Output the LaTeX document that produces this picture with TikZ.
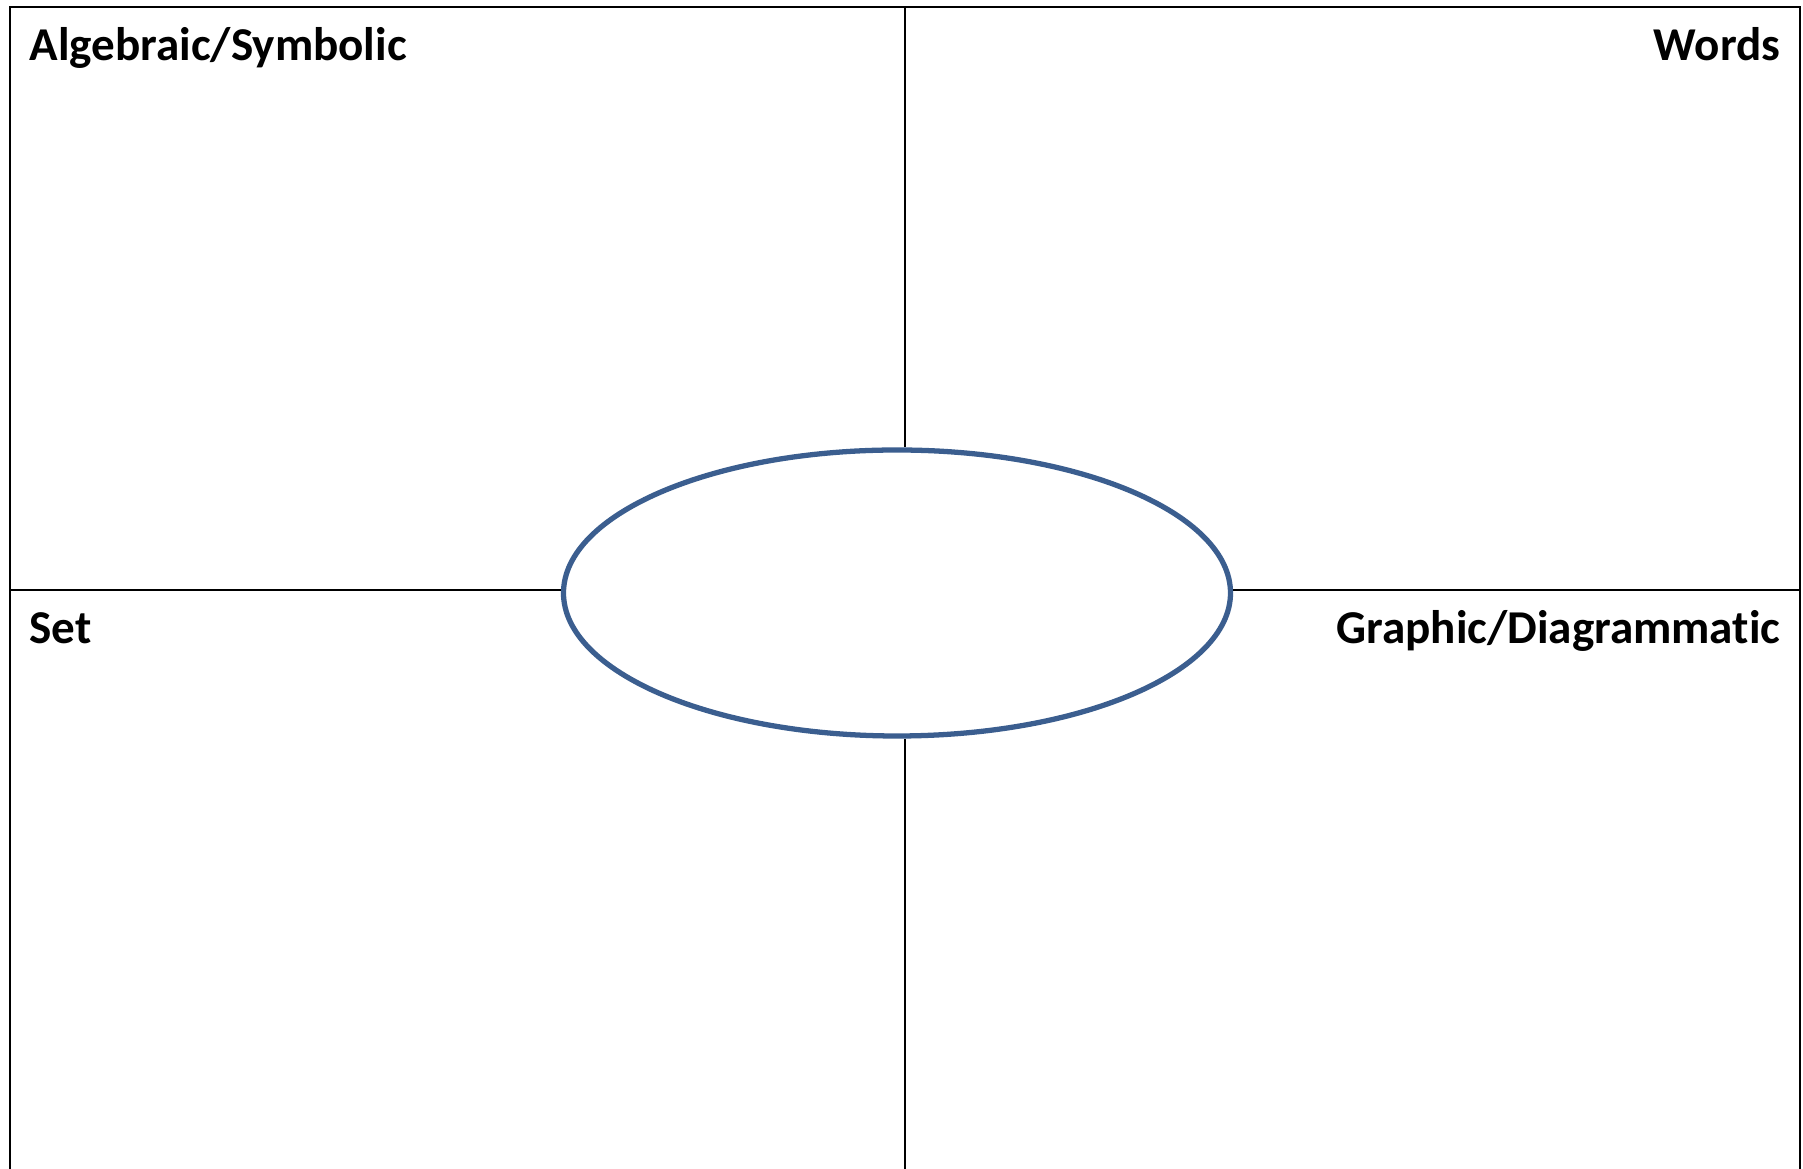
\documentclass[tikz,border=0pt]{standalone}
\usepackage{fontspec}
\setmainfont{Carlito}[Ligatures={NoCommon,NoContextual}]
\usetikzlibrary{shapes.geometric}
\definecolor{hubblue}{HTML}{3B5E8F}

\begin{document}
\begin{tikzpicture}[
  frame/.style={line width=0.8pt},
  divider/.style={line width=0.65pt},
  hub/.style={ellipse,draw=hubblue,line width=1.5pt,inner sep=0pt,
    minimum width=6.67cm,minimum height=2.86cm},
  heading/.style={font=\bfseries\fontsize{13.4}{16}\selectfont,inner sep=0pt}
]
  \useasboundingbox (0,0) rectangle (18.03,11.69);

  % outer frame, open at the bottom
  \coordinate (lb) at (0.10,-0.05);
  \coordinate (lt) at (0.10,11.62);
  \coordinate (rt) at (18.00,11.62);
  \coordinate (rb) at (18.00,-0.05);
  \draw[frame] (lb) -- (lt) -- (rt) -- (rb);

  \node[hub] (hub) at (8.97,5.76) {};

  % dividers up to the ellipse
  \coordinate (mt) at (9.05,11.62);
  \coordinate (mb) at (9.05,-0.05);
  \coordinate (ml) at (0.10,5.79);
  \coordinate (mr) at (18.00,5.79);
  \draw[divider] (mt) -- (mt |- hub.north);
  \draw[divider] (mb) -- (mb |- hub.south);
  \draw[divider] (ml) -- (ml -| hub.west);
  \draw[divider] (mr) -- (mr -| hub.east);

  \node[heading,anchor=base west] (algebraic) at (0.29,11.08) {Algebraic/Symbolic};
  \node[heading,anchor=base east] (words) at (17.81,11.08) {Words};
  \node[heading,anchor=base west] (set) at (0.29,5.25) {Set};
  \node[heading,anchor=base east] (graphic) at (17.81,5.25) {Graphic/Diagrammatic};
\end{tikzpicture}
\end{document}
